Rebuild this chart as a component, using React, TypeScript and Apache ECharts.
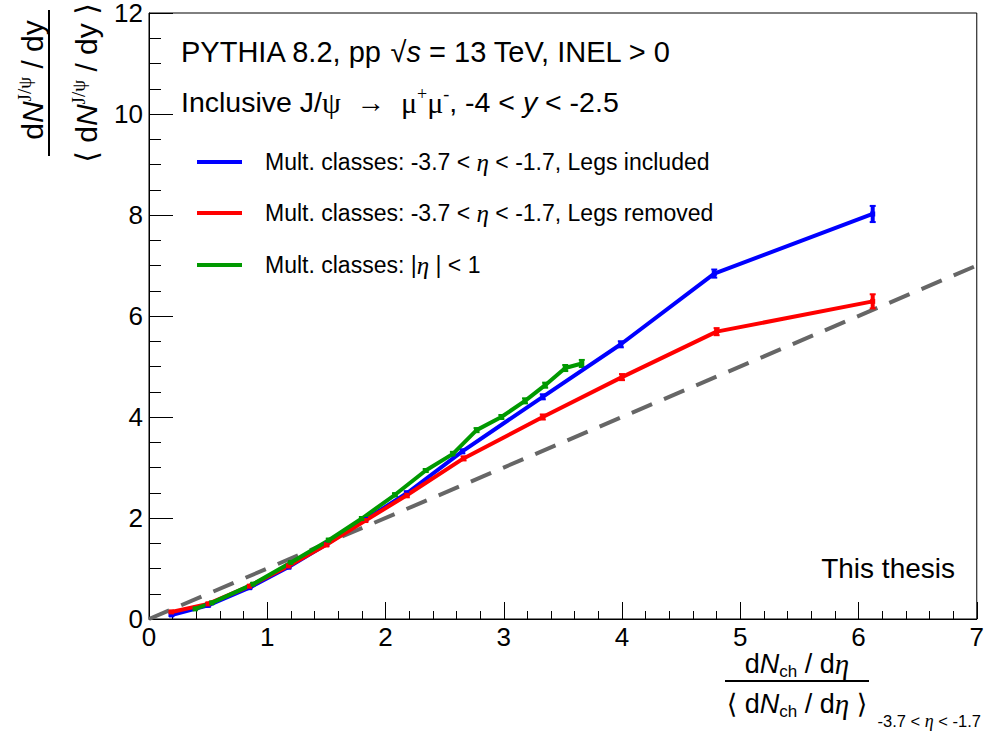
import React, { useEffect, useRef } from "react";
import * as echarts from "echarts";

const blueX = [0.19, 0.5, 0.85, 1.18, 1.5, 1.83, 2.18, 2.65, 3.33, 3.99, 4.78, 6.12];
const blueY = [0.08, 0.27, 0.62, 1.03, 1.48, 1.97, 2.49, 3.32, 4.4, 5.44, 6.84, 8.02];
const blueErr = [0.02, 0.02, 0.02, 0.03, 0.03, 0.03, 0.04, 0.04, 0.05, 0.06, 0.08, 0.16];

const redX = [0.19, 0.5, 0.85, 1.18, 1.5, 1.83, 2.18, 2.66, 3.33, 4.0, 4.8, 6.12];
const redY = [0.14, 0.3, 0.65, 1.05, 1.47, 1.95, 2.45, 3.18, 4.0, 4.79, 5.69, 6.29];
const redErr = [0.02, 0.02, 0.02, 0.03, 0.03, 0.03, 0.04, 0.04, 0.05, 0.06, 0.07, 0.14];

const greenX = [0.39, 0.53, 0.88, 1.2, 1.52, 1.8, 2.08, 2.34, 2.57, 2.77, 2.98, 3.18, 3.35, 3.52, 3.66];
const greenY = [0.2, 0.32, 0.69, 1.12, 1.56, 1.99, 2.46, 2.94, 3.27, 3.74, 4.0, 4.32, 4.63, 4.97, 5.06];
const greenErr = [0.02, 0.02, 0.02, 0.02, 0.03, 0.03, 0.03, 0.03, 0.04, 0.04, 0.04, 0.05, 0.05, 0.06, 0.07];

const diagX = [0, 7];
const diagY = [0, 7];

const xTicks = [0, 1, 2, 3, 4, 5, 6, 7];
const yTicks = [0, 2, 4, 6, 8, 10, 12];

const BLUE = "#0000ff";
const RED = "#ff0000";
const GREEN = "#009900";
const SANS = "Liberation Sans, Arial, Helvetica, DejaVu Sans, sans-serif";
const SERIF = "Liberation Serif, Times New Roman, DejaVu Serif, serif";

const zip = (xs: number[], ys: number[]) => xs.map((x, i) => [x, ys[i]]);
const zip3 = (xs: number[], ys: number[], es: number[]) => xs.map((x, i) => [x, ys[i], es[i]]);

function errSeries(name: string, data: number[][], color: string) {
  return {
    name,
    type: "custom",
    z: 4,
    data,
    renderItem: (_p: any, api: any) => {
      const x = api.value(0);
      const y = api.value(1);
      const e = api.value(2);
      const t = api.coord([x, y + e]);
      const b = api.coord([x, y - e]);
      return {
        type: "group",
        children: [
          { type: "line", shape: { x1: t[0], y1: t[1], x2: b[0], y2: b[1] }, style: { stroke: color, lineWidth: 4 } },
          { type: "line", shape: { x1: t[0] - 3, y1: t[1], x2: t[0] + 3, y2: t[1] }, style: { stroke: color, lineWidth: 2 } },
          { type: "line", shape: { x1: b[0] - 3, y1: b[1], x2: b[0] + 3, y2: b[1] }, style: { stroke: color, lineWidth: 2 } },
        ],
      };
    },
  };
}

function lineSeries(name: string, data: number[][], color: string) {
  return {
    name,
    type: "line",
    z: 5,
    data,
    symbol: "rect",
    symbolSize: 5,
    showSymbol: true,
    itemStyle: { color },
    lineStyle: { color, width: 4 },
  };
}

const titleRich = {
  n: { fontFamily: SANS, fontSize: 29, lineHeight: 34, color: "#000" },
  i: { fontFamily: SANS, fontSize: 29, lineHeight: 34, fontStyle: "italic", color: "#000" },
};

const richBase = {
  n: { fontFamily: SANS, fontSize: 28.5, lineHeight: 34, color: "#000" },
  i: { fontFamily: SANS, fontSize: 28.5, lineHeight: 34, fontStyle: "italic", color: "#000" },
  g: { fontFamily: SERIF, fontSize: 30, lineHeight: 34, color: "#000" },
  sup: { fontFamily: SERIF, fontSize: 18, lineHeight: 20, verticalAlign: "top", color: "#000" },
};

const legRich = {
  n: { fontFamily: SANS, fontSize: 23, lineHeight: 26, color: "#000" },
  e: { fontFamily: SERIF, fontSize: 25, lineHeight: 26, fontStyle: "italic", color: "#000" },
};

const axRich = {
  n: { fontFamily: SANS, fontSize: 27, lineHeight: 32, color: "#000" },
  i: { fontFamily: SANS, fontSize: 27, lineHeight: 32, fontStyle: "italic", color: "#000" },
  e: { fontFamily: SERIF, fontSize: 29, lineHeight: 32, fontStyle: "italic", color: "#000" },
  sub: { fontFamily: SANS, fontSize: 17, lineHeight: 14, verticalAlign: "bottom", color: "#000" },
};

const yRich = {
  n: { fontFamily: SANS, fontSize: 30, lineHeight: 34, color: "#000" },
  i: { fontFamily: SANS, fontSize: 30, lineHeight: 34, fontStyle: "italic", color: "#000" },
  gs: { fontFamily: SERIF, fontSize: 19, lineHeight: 16, verticalAlign: "top", color: "#000" },
};

export default function App() {
  const ref = useRef<HTMLDivElement>(null);
  useEffect(() => {
    if (!ref.current) return;
    const chart = echarts.init(ref.current, null, { renderer: "svg" });
    const legendItems = [
      { y: 162, color: BLUE, text: "{n|Mult. classes: -3.7 < }{e|η}{n| < -1.7, Legs included}" },
      { y: 213, color: RED, text: "{n|Mult. classes: -3.7 < }{e|η}{n| < -1.7, Legs removed}" },
      { y: 265, color: GREEN, text: "{n|Mult. classes: |}{e|η}{n| | < 1}" },
    ];
    const graphics: any[] = [];
    legendItems.forEach((it) => {
      graphics.push({
        type: "line",
        shape: { x1: 197, y1: it.y, x2: 242, y2: it.y },
        style: { stroke: it.color, lineWidth: 4 },
      });
      graphics.push({
        type: "text",
        x: 265,
        y: it.y,
        style: { text: it.text, rich: legRich, verticalAlign: "middle", align: "left" },
      });
    });
    graphics.push(
      {
        type: "text",
        x: 181,
        y: 52,
        style: {
          text: "{n|PYTHIA 8.2, pp }{n|√}{i|s}{n| = 13 TeV, INEL > 0}",
          rich: titleRich,
          verticalAlign: "middle",
        },
      },
      {
        type: "text",
        x: 181,
        y: 102,
        style: {
          text: "{n|Inclusive J/}{g|ψ}{n|  →  }{g|μ}{sup|+}{g|μ}{sup|-}{n|, -4 < }{i|y}{n| < -2.5}",
          rich: richBase,
          verticalAlign: "middle",
        },
      },
      {
        type: "text",
        x: 955,
        y: 568,
        style: { text: "This thesis", fontFamily: SANS, fontSize: 28, fill: "#000", align: "right", verticalAlign: "middle" },
      },
      // x-axis title
      {
        type: "text",
        x: 797,
        y: 664,
        style: { text: "{n|d}{i|N}{sub|ch}{n| / d}{e|η}", rich: axRich, align: "center", verticalAlign: "middle" },
      },
      { type: "line", shape: { x1: 725, y1: 681, x2: 869, y2: 681 }, style: { stroke: "#000", lineWidth: 2 } },
      {
        type: "text",
        x: 797,
        y: 704,
        style: { text: "{n|⟨ d}{i|N}{sub|ch}{n| / d}{e|η}{n| ⟩}", rich: axRich, align: "center", verticalAlign: "middle" },
      },
      {
        type: "text",
        x: 981,
        y: 721,
        style: {
          text: "{n|-3.7 < }{e|η}{n| < -1.7}",
          rich: {
            n: { fontFamily: SANS, fontSize: 16.5, color: "#000" },
            e: { fontFamily: SERIF, fontSize: 18, fontStyle: "italic", color: "#000" },
          },
          align: "right",
          verticalAlign: "middle",
        },
      },
      // y-axis title
      {
        type: "text",
        x: 32,
        y: 80,
        rotation: Math.PI / 2,
        style: { text: "{n|d}{i|N}{gs|J/ψ}{n| / dy}", rich: yRich, align: "center", verticalAlign: "middle" },
      },
      { type: "line", shape: { x1: 49, y1: 10, x2: 49, y2: 156 }, style: { stroke: "#000", lineWidth: 2 } },
      {
        type: "text",
        x: 86,
        y: 83,
        rotation: Math.PI / 2,
        style: { text: "{n|⟨ d}{i|N}{gs|J/ψ}{n| / dy ⟩}", rich: yRich, align: "center", verticalAlign: "middle" },
      }
    );

    chart.setOption({
      animation: false,
      backgroundColor: "#fff",
      grid: { left: 149, right: 7, top: 10, bottom: 117, show: true, borderColor: "#000", borderWidth: 1, backgroundColor: "transparent" },
      xAxis: {
        type: "value",
        min: xTicks[0],
        max: xTicks[xTicks.length - 1],
        interval: 1,
        axisLine: { show: true, onZero: false, lineStyle: { color: "#000", width: 1 } },
        axisTick: { show: true, inside: true, length: 17, lineStyle: { color: "#000", width: 1 } },
        minorTick: { show: true, splitNumber: 5, length: 8, lineStyle: { color: "#000", width: 1 } },
        splitLine: { show: false },
        axisLabel: { fontFamily: SANS, fontSize: 26, color: "#000", margin: 5 },
      },
      yAxis: {
        type: "value",
        min: yTicks[0],
        max: yTicks[yTicks.length - 1],
        interval: 2,
        axisLine: { show: true, onZero: false, lineStyle: { color: "#000", width: 1 } },
        axisTick: { show: true, inside: true, length: 24, lineStyle: { color: "#000", width: 1 } },
        minorTick: { show: true, splitNumber: 4, length: 12, lineStyle: { color: "#000", width: 1 } },
        splitLine: { show: false },
        axisLabel: { fontFamily: SANS, fontSize: 26, lineHeight: 20, color: "#000", margin: 6 },
      },
      series: [
        {
          name: "diagonal",
          type: "line",
          z: 2,
          data: zip(diagX, diagY),
          symbol: "none",
          lineStyle: { color: "#666666", width: 4, type: [22, 13] },
        },
        lineSeries("Legs included", zip(blueX, blueY), BLUE),
        errSeries("Legs included err", zip3(blueX, blueY, blueErr), BLUE),
        lineSeries("Legs removed", zip(redX, redY), RED),
        errSeries("Legs removed err", zip3(redX, redY, redErr), RED),
        lineSeries("|eta|<1", zip(greenX, greenY), GREEN),
        errSeries("|eta|<1 err", zip3(greenX, greenY, greenErr), GREEN),
      ],
      graphic: graphics,
    });
    return () => chart.dispose();
  }, []);
  return <div ref={ref} style={{ position: "absolute", left: 0, top: 0, width: 987, height: 736 }} />;
}
